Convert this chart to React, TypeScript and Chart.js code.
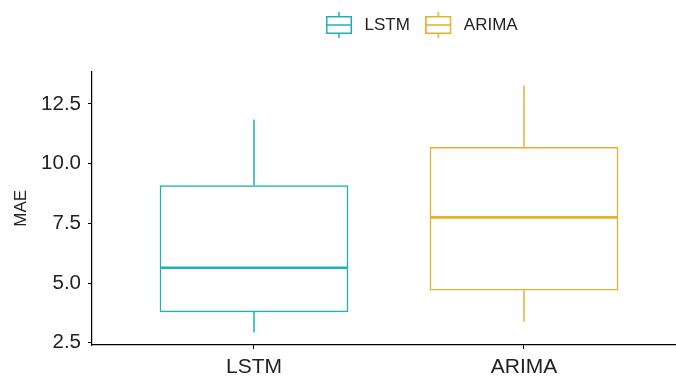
import React, { useEffect, useRef } from "react";
import { Chart, registerables } from "chart.js";

Chart.register(...registerables);

const categories = ["LSTM", "ARIMA"];
const whiskerLow = [2.93, 3.38];
const q1 = [3.79, 4.7];
const median = [5.64, 7.75];
const q3 = [9.08, 10.68];
const whiskerHigh = [11.85, 13.27];
const yTicks = [2.5, 5.0, 7.5, 10.0, 12.5];
const colors = ["#1FB0B8", "#E5B12E"];

const FONT = "'Liberation Sans', Arial, sans-serif";

function makeIcon(color: string): HTMLCanvasElement {
  const c = document.createElement("canvas");
  c.width = 30;
  c.height = 26;
  const ctx = c.getContext("2d")!;
  ctx.strokeStyle = color;
  ctx.lineWidth = 1.5;
  ctx.strokeRect(0.75, 4.75, 24.5, 16.5);
  ctx.beginPath();
  ctx.moveTo(0.75, 13);
  ctx.lineTo(25.25, 13);
  ctx.moveTo(13, 0);
  ctx.lineTo(13, 4.75);
  ctx.moveTo(13, 21.25);
  ctx.lineTo(13, 26);
  ctx.stroke();
  return c;
}

const boxExtras = {
  id: "boxExtras",
  afterDatasetsDraw(chart: any) {
    const ctx = chart.ctx;
    const y = chart.scales.y;
    chart.data.datasets.forEach((ds: any, i: number) => {
      const meta = chart.getDatasetMeta(i);
      const bar: any = meta.data[0];
      if (!bar) return;
      const cx = bar.x;
      const half = bar.width / 2;
      ctx.save();
      ctx.strokeStyle = colors[i];
      ctx.lineWidth = 1.5;
      ctx.beginPath();
      ctx.moveTo(cx, y.getPixelForValue(q3[i]));
      ctx.lineTo(cx, y.getPixelForValue(whiskerHigh[i]));
      ctx.moveTo(cx, y.getPixelForValue(q1[i]));
      ctx.lineTo(cx, y.getPixelForValue(whiskerLow[i]));
      ctx.stroke();
      ctx.lineWidth = 2.6;
      ctx.beginPath();
      const my = y.getPixelForValue(median[i]);
      ctx.moveTo(cx - half, my);
      ctx.lineTo(cx + half, my);
      ctx.stroke();
      ctx.restore();
    });
  },
};

const LEGEND_LEFT = 310.5;
const legendShift = {
  id: "legendShift",
  afterLayout(chart: any) {
    const lg = chart.legend;
    if (lg) {
      const w = lg.right - lg.left;
      lg.left = LEGEND_LEFT;
      lg.right = LEGEND_LEFT + w;
    }
  },
};

export default function App() {
  const ref = useRef<HTMLCanvasElement>(null);

  useEffect(() => {
    if (!ref.current) return;
    const icons = colors.map((c) => makeIcon(c));
    const chart = new Chart(ref.current, {
      type: "bar",
      data: {
        datasets: categories.map((name, i) => ({
          label: name,
          data: [{ x: i + 1, y: [q1[i], q3[i]] }],
          backgroundColor: "#ffffff",
          borderColor: colors[i],
          borderWidth: 1.5,
          borderSkipped: false,
          barThickness: 188,
          grouped: false,
        })) as any,
      },
      options: {
        animation: false,
        responsive: false,
        devicePixelRatio: 1,
        layout: { padding: { top: 1, left: 0, right: 0, bottom: 0 } },
        plugins: {
          tooltip: { enabled: false },
          title: {
            display: true,
            text: "",
            padding: 0,
            font: { size: 28, lineHeight: 1 },
          },
          legend: {
            display: true,
            position: "top",
            align: "start",
            weight: 3000,
            labels: {
              usePointStyle: true,
              pointStyleWidth: 30,
              boxHeight: 17,
              padding: 15.5,
              color: "#222222",
              font: { family: FONT, size: 17 },
              generateLabels: (ch: any) =>
                ch.data.datasets.map((ds: any, i: number) => ({
                  text: ds.label,
                  fillStyle: "rgba(0,0,0,0)",
                  strokeStyle: colors[i],
                  lineWidth: 0,
                  pointStyle: icons[i],
                  hidden: false,
                  datasetIndex: i,
                  fontColor: "#222222",
                })),
            },
          } as any,
        },
        scales: {
          x: {
            type: "linear",
            offset: false,
            min: 0.4,
            max: 2.563,
            afterBuildTicks: (s: any) => {
              s.ticks = categories.map((_, i) => ({ value: i + 1 }));
            },
            afterFit: (s: any) => {
              s.height = 35;
            },
            ticks: {
              callback: (v: any) => categories[Math.round(Number(v)) - 1] ?? "",
              color: "#222222",
              font: { family: FONT, size: 21 },
              padding: 6,
              maxRotation: 0,
              autoSkip: false,
            },
            grid: {
              offset: false,
              drawOnChartArea: false,
              drawTicks: true,
              tickLength: 4,
              color: "#000000",
            },
            border: { display: true, color: "#000000", width: 1.2 },
          },
          y: {
            type: "linear",
            min: 2.404,
            max: 13.86,
            afterBuildTicks: (s: any) => {
              s.ticks = yTicks.map((v) => ({ value: v }));
            },
            afterFit: (s: any) => {
              s.width = 92;
            },
            ticks: {
              callback: (v: any) => Number(v).toFixed(1),
              color: "#222222",
              font: { family: FONT, size: 20.5 },
              padding: 7,
            },
            grid: {
              drawOnChartArea: false,
              drawTicks: true,
              tickLength: 4,
              color: "#000000",
            },
            border: { display: true, color: "#000000", width: 1.2 },
            title: {
              display: true,
              text: "MAE",
              color: "#222222",
              font: { family: FONT, size: 17 },
              padding: { top: 11, bottom: 0 },
            },
          },
        },
      } as any,
      plugins: [boxExtras, legendShift],
    });
    return () => chart.destroy();
  }, []);

  return (
    <div style={{ position: "fixed", left: 0, top: 0, width: 676, height: 380, background: "#ffffff" }}>
      <canvas ref={ref} width={676} height={380} style={{ display: "block" }} />
    </div>
  );
}
